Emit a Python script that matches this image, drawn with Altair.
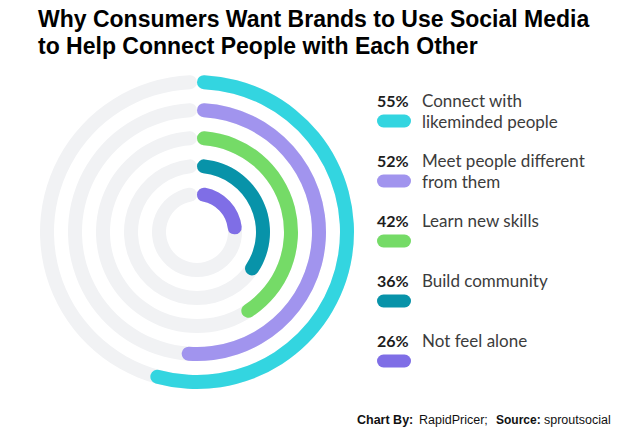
import altair as alt
import pandas as pd

# Survey answers, outermost ring first
labels = [
    "Connect with likeminded people",
    "Meet people different from them",
    "Learn new skills",
    "Build community",
    "Not feel alone",
]
line1 = ["Connect with", "Meet people different", "Learn new skills", "Build community", "Not feel alone"]
line2 = ["likeminded people", "from them", "", "", ""]
shares = [55, 52, 42, 36, 26]
colors = ["#33d5e0", "#a194ee", "#75db67", "#0893a9", "#7f6ee6"]

df = pd.DataFrame({
    "label": labels,
    "line1": line1,
    "line2": line2,
    "pct": shares,
    "order": list(range(len(labels))),
})

CX, CY = 197, 232
FONT = "Lato"

theta_scale = alt.Scale(domain=[0, 100], range=[0, 6.283185307])
radius_scale = alt.Scale(type="linear", domain=[0, 5], range=[17, 157], zero=False)
color_scale = alt.Scale(domain=labels, range=colors)
row_scale = alt.Scale(domain=[0, 4], range=[102, 342])

base = alt.Chart(df).transform_calculate(
    ring="5 - datum.order",
    ring_in="4.5 - datum.order",
    full="100",
    zero="0",
    pct_label="datum.pct + '%'",
)

# light full-circle tracks behind each ring
track = base.mark_arc(cornerRadius=7, color="#f1f2f4").encode(
    theta=alt.Theta("full:Q", scale=theta_scale, stack=None),
    theta2="zero:Q",
    radius=alt.Radius("ring:Q", scale=radius_scale),
    radius2="ring_in:Q",
    x=alt.value(CX),
    y=alt.value(CY),
)

arcs = base.mark_arc(cornerRadius=7).encode(
    theta=alt.Theta("pct:Q", scale=theta_scale, stack=None),
    theta2="zero:Q",
    radius=alt.Radius("ring:Q", scale=radius_scale),
    radius2="ring_in:Q",
    color=alt.Color("label:N", scale=color_scale, legend=None),
    x=alt.value(CX),
    y=alt.value(CY),
)

row_y = alt.Y("order:Q", scale=row_scale, axis=None)

pct_text = base.mark_text(
    align="left", baseline="middle", font=FONT, fontWeight="bold",
    fontSize=16, color="#1d1d1d",
).encode(x=alt.value(377), y=row_y, text="pct_label:N")

label_1 = base.mark_text(
    align="left", baseline="middle", font=FONT, fontSize=17, color="#3c3c3c",
).encode(x=alt.value(422), y=row_y, text="line1:N")

label_2 = base.mark_text(
    align="left", baseline="middle", font=FONT, fontSize=17, color="#3c3c3c", yOffset=21,
).encode(x=alt.value(422), y=row_y, text="line2:N")

swatch = base.mark_rule(strokeWidth=13, strokeCap="round", yOffset=19).encode(
    x=alt.value(383.5),
    x2=alt.value(404.5),
    y=row_y,
    color=alt.Color("label:N", scale=color_scale, legend=None),
)

one = alt.Chart(pd.DataFrame({"k": [0]}))

title_1 = one.mark_text(
    text="Why Consumers Want Brands to Use Social Media",
    align="left", baseline="middle", font="Liberation Sans", fontWeight="bold",
    fontSize=23, color="#000000",
).encode(x=alt.value(38), y=alt.value(20))

title_2 = one.mark_text(
    text="to Help Connect People with Each Other",
    align="left", baseline="middle", font="Liberation Sans", fontWeight="bold",
    fontSize=23, color="#000000",
).encode(x=alt.value(38), y=alt.value(47))

def foot(text, x, bold, size):
    return one.mark_text(
        text=text, align="left", baseline="middle", font="Liberation Sans",
        fontWeight="bold" if bold else "normal", fontSize=size, color="#111111",
    ).encode(x=alt.value(x), y=alt.value(420))

footer = [
    foot("Chart By:", 357, True, 12.5),
    foot("RapidPricer;", 419, False, 12.5),
    foot("Source:", 496, True, 12),
    foot("sproutsocial", 544, False, 12.5),
]

chart = alt.layer(
    track, arcs, pct_text, label_1, label_2, swatch, title_1, title_2, *footer
).properties(
    width=640, height=430, padding=0, autosize=alt.AutoSizeParams(type="none"),
    background="#ffffff",
).configure_view(stroke=None)

chart.save("out.html", embed_options={"renderer": "svg", "actions": False})
